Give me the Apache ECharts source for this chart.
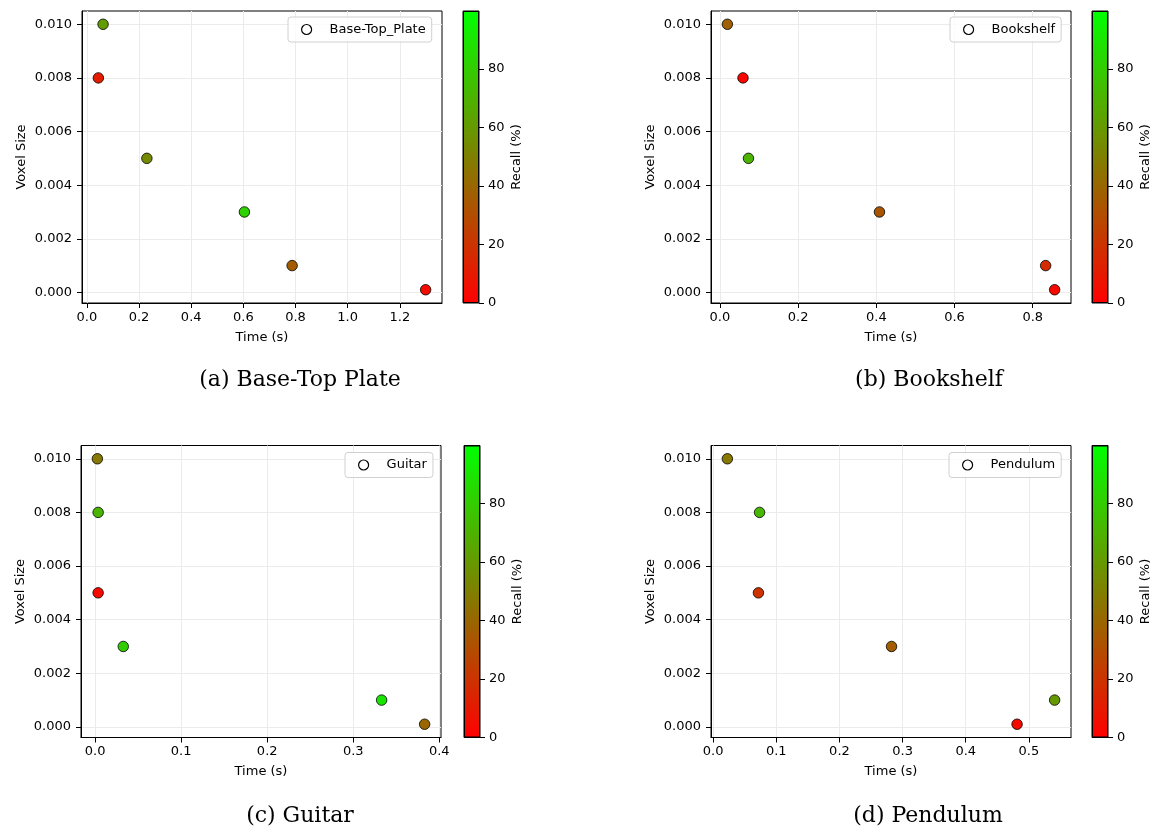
<!DOCTYPE html>
<html>
<head>
<meta charset="utf-8">
<script src="https://cdn.jsdelivr.net/npm/echarts@6/dist/echarts.min.js"></script>
<style>
html,body{margin:0;padding:0;background:#fff;}
#chart{width:1153px;height:828px;}
</style>
</head>
<body>
<div id="chart"></div>
<script>
// ---- data ----
const seriesNames = ['Base-Top_Plate', 'Bookshelf', 'Guitar', 'Pendulum'];
const captions = ['(a) Base-Top Plate', '(b) Bookshelf', '(c) Guitar', '(d) Pendulum'];

const timeA = [0.062, 0.044, 0.230, 0.604, 0.787, 1.299];
const voxelA = [0.010, 0.008, 0.005, 0.003, 0.001, 0.0001];
const recallA = [61, 11, 54, 82, 36, 5];

const timeB = [0.019, 0.059, 0.073, 0.408, 0.833, 0.856];
const voxelB = [0.010, 0.008, 0.005, 0.003, 0.001, 0.0001];
const recallB = [37, 2, 70, 33, 17, 4];

const timeC = [0.0026, 0.0035, 0.0035, 0.0327, 0.333, 0.383];
const voxelC = [0.010, 0.008, 0.005, 0.003, 0.001, 0.0001];
const recallC = [47, 71, 4, 80, 90, 40];

const timeD = [0.0225, 0.0735, 0.0717, 0.2825, 0.4813, 0.5408];
const voxelD = [0.010, 0.008, 0.005, 0.003, 0.0001, 0.001];
const recallD = [47, 72, 20, 36, 4, 60];

const xTicksA = [0, 0.2, 0.4, 0.6, 0.8, 1.0, 1.2];
const xTicksB = [0, 0.2, 0.4, 0.6, 0.8];
const xTicksC = [0, 0.1, 0.2, 0.3, 0.4];
const xTicksD = [0, 0.1, 0.2, 0.3, 0.4, 0.5];
const yTicks = [0, 0.002, 0.004, 0.006, 0.008, 0.010];
const cbTicks = [0, 20, 40, 60, 80];
const recallMin = 0;
const recallMax = 99.8;

// ---- layout ----
const times = [timeA, timeB, timeC, timeD];
const voxels = [voxelA, voxelB, voxelC, voxelD];
const recalls = [recallA, recallB, recallC, recallD];
const xTicks = [xTicksA, xTicksB, xTicksC, xTicksD];
const xSplit = [7, 5, 4, 6];

const mainPos = [[82, 11], [711, 11], [81, 445.5], [711, 445.5]];
const cbPos = [[463, 11], [1092, 11], [464, 445.5], [1092, 445.5]];
const legendPos = [[288, 17], [950, 17], [345, 452.5], [949, 452.5]];
const captionPos = [[300, 380], [929, 380], [300, 816], [928, 816]];
const W = 360, H = 292, CBW = 16;

const FONT = 'DejaVu Sans';
const txt = { color: '#000', fontFamily: FONT, fontSize: 13 };

function pad(arr) {
  const mn = Math.min(...arr), mx = Math.max(...arr), r = mx - mn;
  return [mn - 0.05 * r, mx + 0.05 * r];
}

const grid = [], xAxis = [], yAxis = [], series = [], legend = [], visualMap = [], graphic = [];

for (let i = 0; i < 4; i++) {
  const xr = pad(times[i]);
  const yr = pad(voxels[i]);
  grid.push({ left: mainPos[i][0], top: mainPos[i][1], width: W, height: H,
    show: true, borderColor: '#000', borderWidth: 1, backgroundColor: 'transparent', containLabel: false });
  xAxis.push({
    type: 'value', gridIndex: 2 * i, min: xr[0], max: xr[1], splitNumber: xSplit[i],
    name: 'Time (s)', nameLocation: 'middle', nameGap: 28, nameTextStyle: txt,
    axisLine: { show: true, onZero: false, lineStyle: { color: '#000', width: 1 } },
    axisTick: { show: true, length: 5, customValues: xTicks[i], lineStyle: { color: '#000', width: 1 } },
    axisLabel: Object.assign({ margin: 8, customValues: xTicks[i], formatter: v => v.toFixed(1) }, txt),
    splitLine: { show: true, lineStyle: { color: '#ebebeb', width: 1 } }
  });
  yAxis.push({
    type: 'value', gridIndex: 2 * i, min: yr[0], max: yr[1], splitNumber: 5,
    name: 'Voxel Size', nameLocation: 'middle', nameGap: 54, nameTextStyle: txt,
    axisLine: { show: true, onZero: false, lineStyle: { color: '#000', width: 1 } },
    axisTick: { show: true, length: 5, customValues: yTicks, lineStyle: { color: '#000', width: 1 } },
    axisLabel: Object.assign({ margin: 10, customValues: yTicks, formatter: v => v.toFixed(3) }, txt),
    splitLine: { show: true, lineStyle: { color: '#ebebeb', width: 1 } }
  });
  // colorbar grid
  grid.push({ left: cbPos[i][0], top: cbPos[i][1], width: CBW, height: H,
    show: true, borderColor: '#000', borderWidth: 1, containLabel: false });
  xAxis.push({ type: 'category', gridIndex: 2 * i + 1, data: ['cb'], show: false, boundaryGap: true });
  yAxis.push({
    type: 'value', gridIndex: 2 * i + 1, position: 'right', min: recallMin, max: recallMax,
    name: 'Recall (%)', nameLocation: 'middle', nameGap: 31, nameRotate: 90, nameTextStyle: txt,
    axisLine: { show: false },
    axisTick: { show: true, length: 5, customValues: cbTicks, lineStyle: { color: '#000', width: 1 } },
    axisLabel: Object.assign({ margin: 9, customValues: cbTicks }, txt),
    splitLine: { show: false }
  });

  series.push({
    type: 'scatter', name: seriesNames[i], xAxisIndex: 2 * i, yAxisIndex: 2 * i,
    symbol: 'circle', symbolSize: 10.5, z: 5,
    itemStyle: { borderColor: '#000', borderWidth: 0.8, opacity: 1 },
    data: times[i].map((t, k) => [t, voxels[i][k], recalls[i][k]])
  });
  visualMap.push({
    type: 'continuous', show: false, seriesIndex: 2 * i, dimension: 2,
    min: recallMin, max: recallMax, inRange: { color: ['#ff0000', '#00ff00'] }
  });
  series.push({
    type: 'bar', name: 'cb' + i, xAxisIndex: 2 * i + 1, yAxisIndex: 2 * i + 1,
    barWidth: '100%', silent: true, z: 3,
    itemStyle: {
      borderColor: '#000', borderWidth: 1,
      color: { type: 'linear', x: 0, y: 0, x2: 0, y2: 1,
        colorStops: [{ offset: 0, color: '#00ff00' }, { offset: 1, color: '#ff0000' }] }
    },
    data: [recallMax]
  });
  legend.push({
    left: legendPos[i][0], top: legendPos[i][1], orient: 'vertical',
    data: [{ name: seriesNames[i], icon: 'circle',
      itemStyle: { color: '#fff', borderColor: '#000', borderWidth: 1.2 } }],
    itemWidth: 36, itemHeight: 10, padding: [6, 6, 6, 13],
    backgroundColor: 'rgba(255,255,255,0.8)', borderColor: '#d0d0d0', borderWidth: 1, borderRadius: 3,
    textStyle: txt, selectedMode: false
  });
  graphic.push({
    type: 'text', x: captionPos[i][0], y: captionPos[i][1],
    style: { text: captions[i], fill: '#000', font: '22px "DejaVu Serif"', align: 'center', verticalAlign: 'middle' }
  });
}

const chart = echarts.init(document.getElementById('chart'), null, { renderer: 'canvas' });
chart.setOption({
  animation: false, backgroundColor: '#fff',
  grid, xAxis, yAxis, series, legend, visualMap, graphic
});
</script>
</body>
</html>
